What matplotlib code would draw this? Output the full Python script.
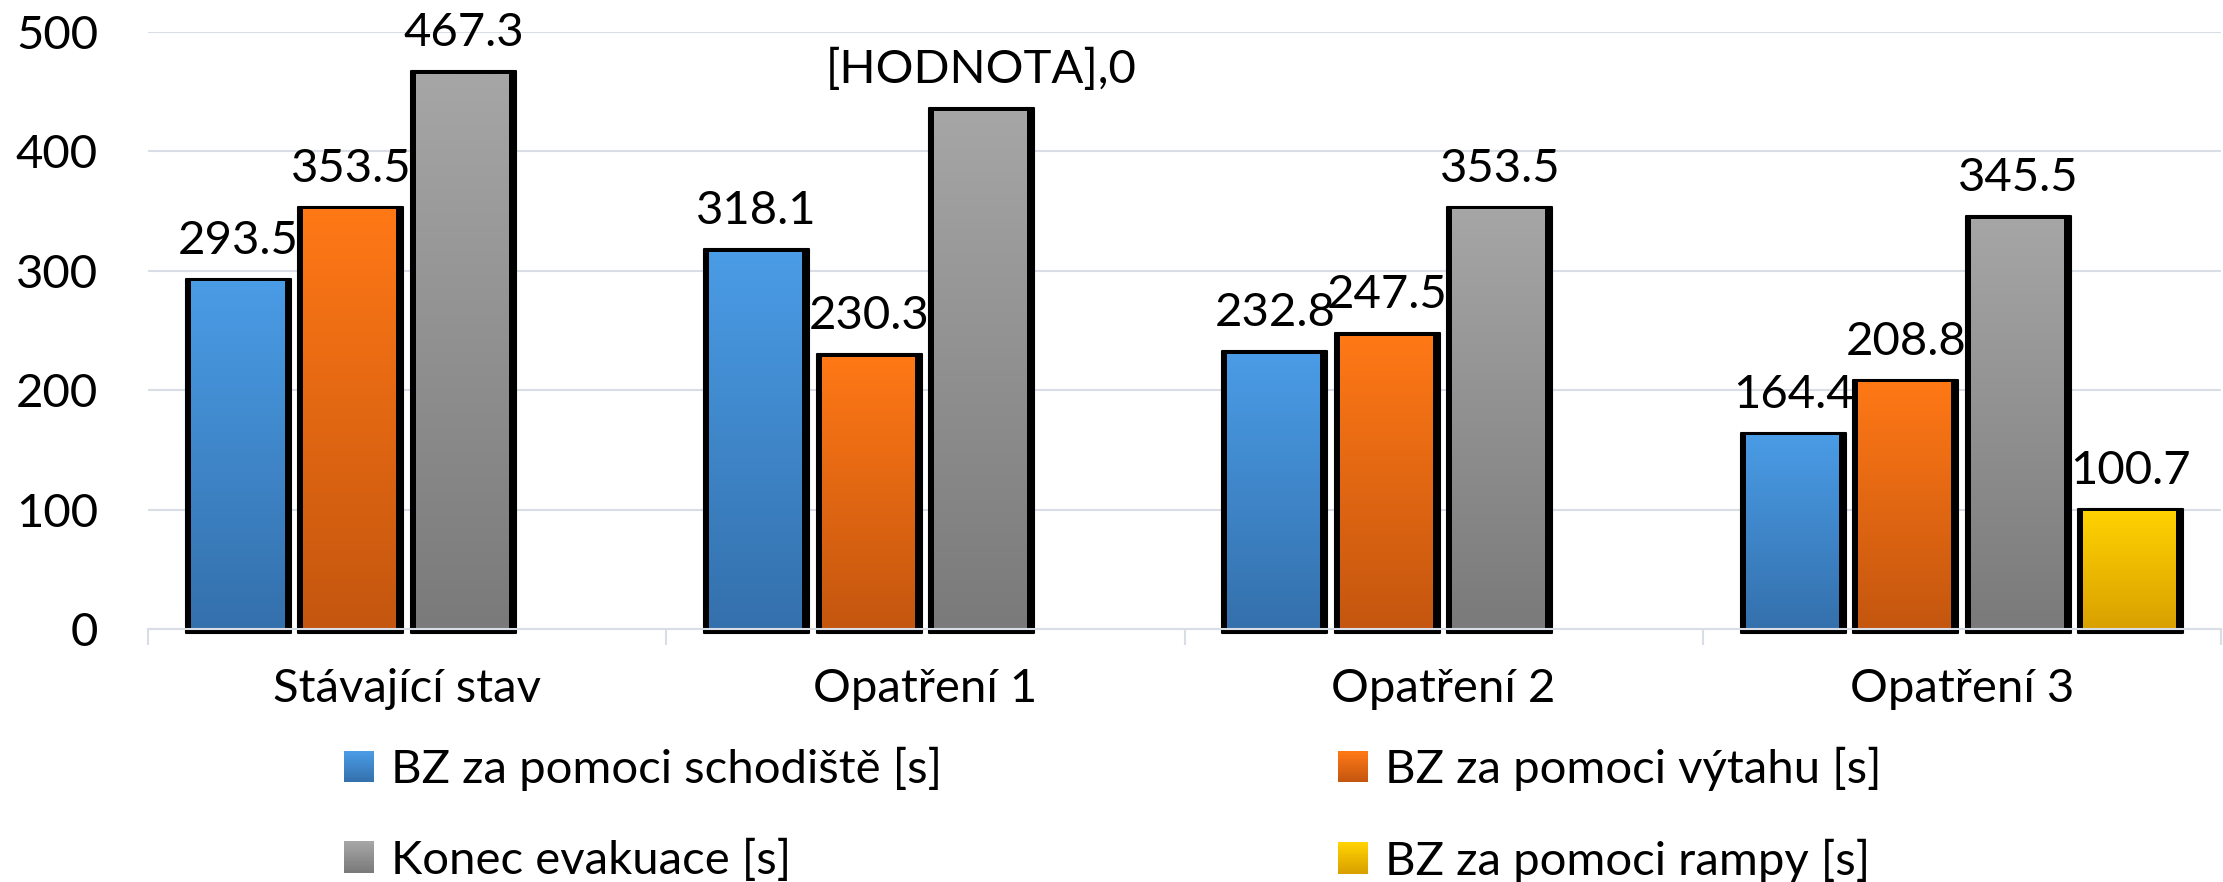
import numpy as np
import matplotlib
matplotlib.use('Agg')
import matplotlib.pyplot as plt
from matplotlib.patches import Rectangle
from matplotlib.legend_handler import HandlerBase
from matplotlib.colors import LinearSegmentedColormap, to_rgb

# ---------------- data ----------------
categories = ["Stávající stav", "Opatření 1", "Opatření 2", "Opatření 3"]
series_names = ["BZ za pomoci schodiště [s]", "BZ za pomoci výtahu [s]",
                "Konec evakuace [s]", "BZ za pomoci rampy [s]"]
stairs = [293.5, 318.1, 232.8, 164.4]
lift = [353.5, 230.3, 247.5, 208.8]
evac_end = [467.3, 436.0, 353.5, 345.5]
ramp = [np.nan, np.nan, np.nan, 100.7]
evac_end_labels = ["467.3", "[HODNOTA],0", "353.5", "345.5"]
y_ticks = [0, 100, 200, 300, 400, 500]

# ---------------- style ----------------
tops = ["#4A9CE6", "#FF7816", "#A6A6A6", "#FFD200"]
bots = ["#3470AC", "#C4560F", "#7A7A7A", "#D9A000"]
grid_c = "#D9DDE6"
FS = 34

W, H = 2223, 882
plt.rcParams['font.family'] = ['Lato', 'DejaVu Sans']
fig = plt.figure(figsize=(W / 100, H / 100), dpi=100)
ax_l, ax_r, ax_t, ax_b = 148, 2221, 32, 629
ax = fig.add_axes([ax_l / W, (H - ax_b) / H, (ax_r - ax_l) / W, (ax_b - ax_t) / H])

xlim = (-0.5, len(categories) - 0.5)
ylim = (0, 500)
px_x = (xlim[1] - xlim[0]) / (ax_r - ax_l)
px_y = (ylim[1] - ylim[0]) / (ax_b - ax_t)

slot = 112.5 * px_x
bw = 105 * px_x
offsets = (np.arange(4) - 1.5) * slot

all_series = [stairs, lift, evac_end, ramp]
for i, vals in enumerate(all_series):
    cmap = LinearSegmentedColormap.from_list("g%d" % i, [bots[i], tops[i]])
    grad = np.linspace(0, 1, 256).reshape(-1, 1)
    for j, v in enumerate(vals):
        if np.isnan(v):
            continue
        xc = j + offsets[i]
        ax.add_patch(Rectangle((xc - bw / 2, -4 * px_y), bw, v + 4 * px_y,
                               facecolor='black', edgecolor='black', lw=1.5,
                               joinstyle='round', zorder=2, clip_on=False))
        ax.imshow(grad, extent=[xc - bw / 2 + 5 * px_x, xc + bw / 2 - 7 * px_x,
                                0, v - 3 * px_y],
                  origin='lower', cmap=cmap, aspect='auto', zorder=3,
                  interpolation='bilinear')
        lbl = evac_end_labels[j] if i == 2 else "%.1f" % v
        ax.annotate(lbl, (xc, v), xytext=(0, 18), textcoords='offset points',
                    ha='center', va='baseline', fontsize=FS, color='black',
                    annotation_clip=False)

ax.set_xlim(*xlim)
ax.set_ylim(*ylim)
ax.set_yticks(y_ticks)
ax.yaxis.grid(True, color=grid_c, lw=1.5)
ax.set_axisbelow(True)
ax.set_xticks(range(len(categories)))
ax.set_xticklabels(categories)
ax.set_xticks(np.arange(-0.5, len(categories), 1.0), minor=True)
ax.tick_params(axis='x', which='major', length=0, pad=28, labelsize=FS)
ax.tick_params(axis='x', which='minor', length=11.5, width=1.5, color=grid_c)
ax.tick_params(axis='y', length=0, pad=36, labelsize=FS)
for s in ['top', 'right', 'left']:
    ax.spines[s].set_visible(False)
ax.spines['bottom'].set_color(grid_c)
ax.spines['bottom'].set_linewidth(1.5)
ax.spines['bottom'].set_zorder(4)


class GradHandler(HandlerBase):
    def __init__(self, top, bot):
        super().__init__()
        self.top = np.array(to_rgb(top))
        self.bot = np.array(to_rgb(bot))

    def create_artists(self, legend, orig_handle, xdescent, ydescent, width,
                       height, fontsize, trans):
        n = 24
        arts = []
        for k in range(n):
            f = k / (n - 1)
            c = self.bot * (1 - f) + self.top * f
            r = Rectangle((-xdescent, -ydescent + k * height / n), width,
                          height / n * 1.05, facecolor=c, lw=0, transform=trans)
            arts.append(r)
        return arts


proxies = [Rectangle((0, 0), 1, 1) for _ in range(4)]
hmap = {proxies[k]: GradHandler(tops[k], bots[k]) for k in range(4)}
common = dict(frameon=False, fontsize=FS, handlelength=0.635, handleheight=0.635,
              handletextpad=0.36, labelspacing=1.0, borderpad=0, borderaxespad=0,
              loc='upper left', handler_map=hmap)
leg1 = fig.legend([proxies[0], proxies[2]], [series_names[0], series_names[2]],
                  bbox_to_anchor=(344 / W, 1 - 747 / H), **common)
leg2 = fig.legend([proxies[1], proxies[3]], [series_names[1], series_names[3]],
                  bbox_to_anchor=(1338 / W, 1 - 747 / H), **common)

fig.savefig("out.png", dpi=100)
